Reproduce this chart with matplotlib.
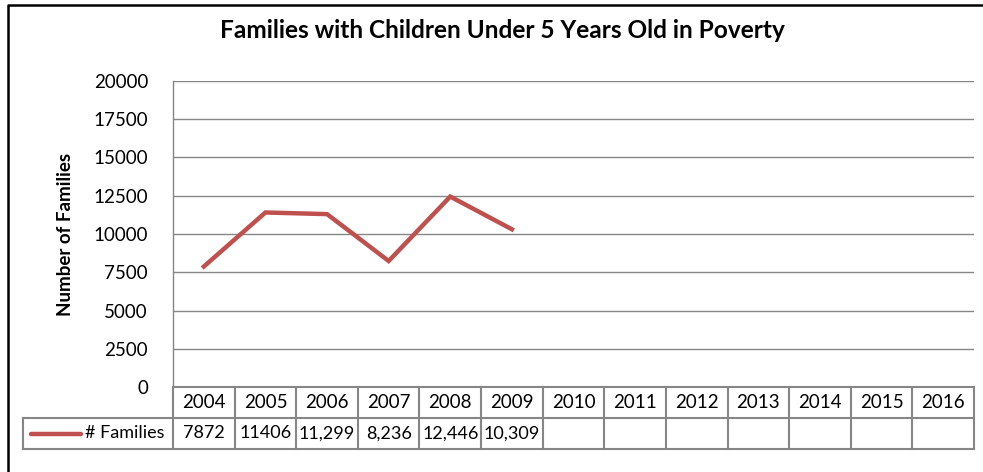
import matplotlib
matplotlib.use("Agg")
import matplotlib.pyplot as plt
from matplotlib.lines import Line2D
import matplotlib.transforms as mtransforms

# Chart data
years = ["2004", "2005", "2006", "2007", "2008", "2009", "2010",
         "2011", "2012", "2013", "2014", "2015", "2016"]
families = [7872, 11406, 11299, 8236, 12446, 10309]
table_labels = ["7872", "11406", "11,299", "8,236", "12,446", "10,309"]
series_name = "# Families"
y_ticks = [0, 2500, 5000, 7500, 10000, 12500, 15000, 17500, 20000]

RED = "#C0504D"
GRID = "#868686"
FONT = "Lato"
FS = 13.5

W, H = 983, 472
fig = plt.figure(figsize=(W / 100, H / 100), dpi=100)

# plot area in pixels
left, right, top, bottom = 173, 974, 81, 387
ax = fig.add_axes([left / W, 1 - bottom / H, (right - left) / W, (bottom - top) / H])

x = list(range(len(families)))
ax.plot(x, families, color=RED, lw=3.2, solid_joinstyle="miter")

n = len(years)
ax.set_xlim(-0.5, n - 0.5)
ax.set_ylim(0, 20000)
ax.set_yticks(y_ticks)
ax.set_yticklabels([str(v) for v in y_ticks], fontsize=FS, family=FONT)
ax.set_xticks([])
ax.tick_params(axis="y", length=0, pad=18)
ax.grid(axis="y", color=GRID, lw=1)
ax.set_axisbelow(True)
for s in ["top", "right", "bottom"]:
    ax.spines[s].set_visible(False)
ax.spines["left"].set_color(GRID)
ax.spines["left"].set_linewidth(1)

# data table under the axis (x in data units, y in axes fraction)
trans = mtransforms.blended_transform_factory(ax.transData, ax.transAxes)
row_h = 31 / (bottom - top)
y0, y1, y2 = 0, -row_h, -2 * row_h
lab_left = -0.5 - (left - 23) / ((right - left) / n)
tkw = dict(color=GRID, lw=1.5, transform=trans, clip_on=False)

ax.plot([-0.5, n - 0.5], [y0, y0], **tkw)
ax.plot([lab_left, n - 0.5], [y1, y1], **tkw)
ax.plot([lab_left, n - 0.5], [y2, y2], **tkw)
ax.plot([lab_left, lab_left], [y1, y2], **tkw)
for i in range(n + 1):
    ax.plot([i - 0.5, i - 0.5], [y0, y2], **tkw)

for i, yr in enumerate(years):
    ax.text(i, (y0 + y1) / 2, yr, ha="center", va="center", fontsize=FS,
            family=FONT, transform=trans)
for i, lab in enumerate(table_labels):
    ax.text(i, (y1 + y2) / 2, lab, ha="center", va="center", fontsize=13,
            family=FONT, transform=trans)

# legend key and series name in the row label cell
ax.text(-0.5 - 0.14, (y1 + y2) / 2, series_name, ha="right", va="center",
        fontsize=13, family=FONT, transform=trans)
fig.add_artist(Line2D([31 / W, 81 / W], [1 - 434 / H, 1 - 434 / H],
                      color=RED, lw=3.2, solid_capstyle="round"))

ax.set_ylabel("Number of Families", fontsize=FS, family=FONT,
              fontweight="bold", labelpad=14)
fig.text(502 / W, 1 - 31 / H, "Families with Children Under 5 Years Old in Poverty",
         ha="center", va="center", fontsize=17.6, family=FONT, fontweight="bold")

# chart frame
fig.add_artist(Line2D([8 / W, 8 / W, 1.0], [0, 1 - 5 / H, 1 - 5 / H],
                      color="black", lw=1.8))

fig.savefig("out.png", dpi=100)
